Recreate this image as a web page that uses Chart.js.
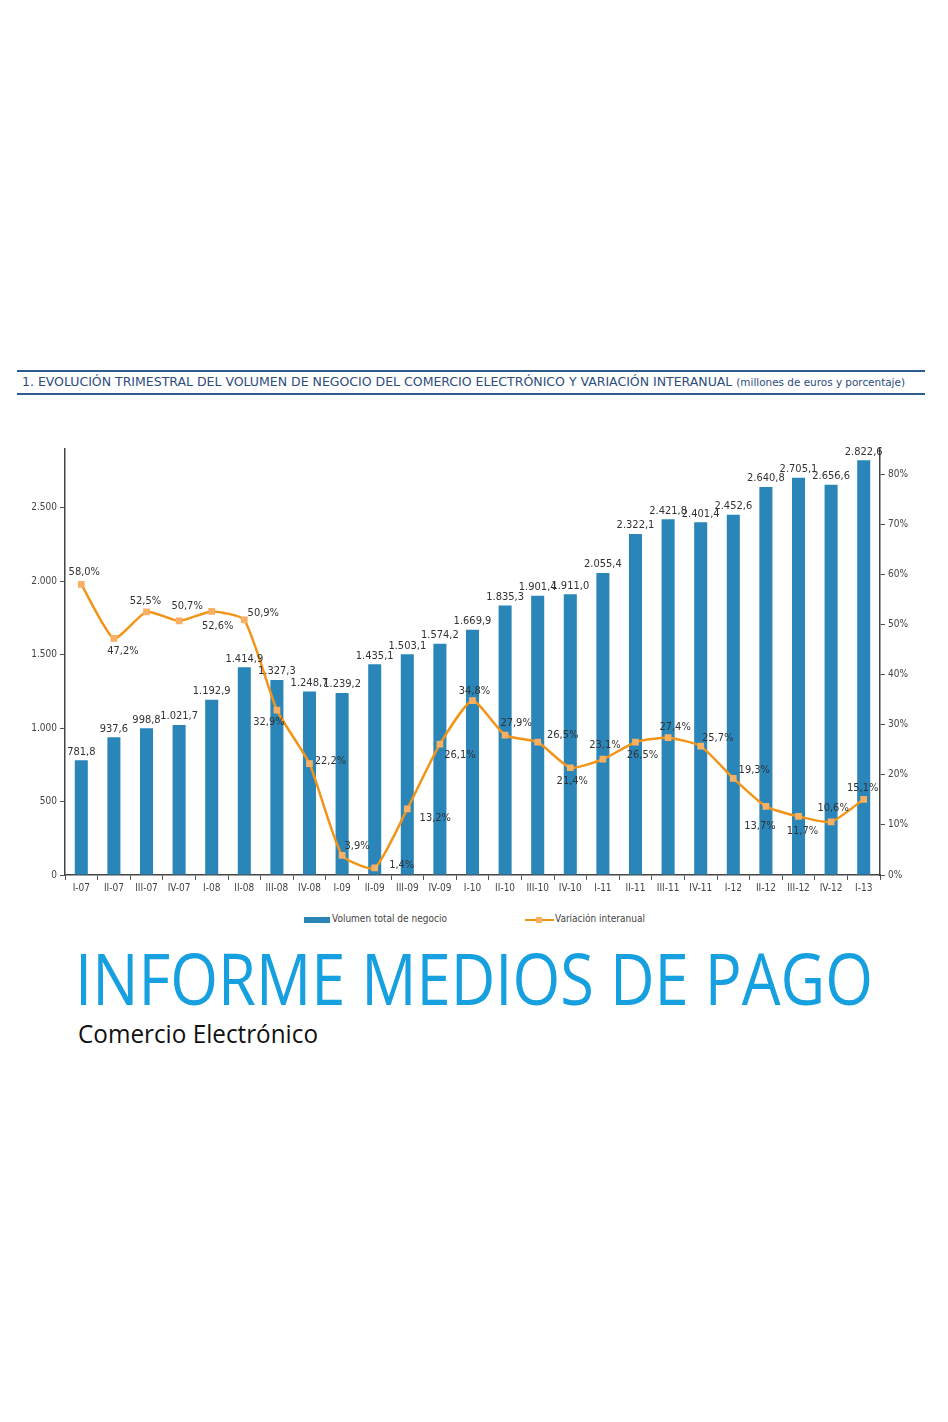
<!DOCTYPE html>
<html><head><meta charset="utf-8">
<script src="https://cdn.jsdelivr.net/npm/chart.js@4.4.1/dist/chart.umd.min.js"></script>
<style>
html,body{margin:0;padding:0;background:#fff;width:948px;height:1422px;overflow:hidden;}
#wrap{position:relative;width:948px;height:1422px;}
.hline{position:absolute;left:17px;width:908px;height:2px;background:#2f5c8e;}
.fit{position:absolute;white-space:nowrap;transform-origin:0 0;}
#title{left:22px;top:375px;font:12px "Liberation Sans Narrow","DejaVu Sans Condensed",sans-serif;color:#2c4d7e;}
#cv{position:absolute;left:0;top:440px;}
.leg{position:absolute;top:913px;font:10px "Liberation Sans Narrow","DejaVu Sans Condensed",sans-serif;color:#444;}
#big{left:75px;top:942px;font:71px "Open Sans",sans-serif;color:#16a0e0;line-height:1;}
#sub{left:78px;top:1020px;font:26px "Open Sans",sans-serif;color:#111;line-height:1;}
</style></head>
<body><div id="wrap">
<div class="hline" style="top:370px"></div>
<div class="hline" style="top:393px"></div>
<div id="title" class="fit" data-w="883">1. EVOLUCIÓN TRIMESTRAL DEL VOLUMEN DE NEGOCIO DEL COMERCIO ELECTRÓNICO Y VARIACIÓN INTERANUAL <span style="font-size:10px">(millones de euros y porcentaje)</span></div>
<canvas id="cv" width="948" height="470" style="width:948px;height:470px"></canvas>
<div style="position:absolute;left:304px;top:917px;width:26px;height:6px;background:#2a86b8"></div>
<div class="leg" style="left:332px">Volumen total de negocio</div>
<div style="position:absolute;left:525px;top:919px;width:29px;height:2px;background:#f29418"></div>
<div style="position:absolute;left:536px;top:917px;width:6px;height:6px;background:#f7b064"></div>
<div class="leg" style="left:555px">Variación interanual</div>
<div id="big" class="fit" data-w="798">INFORME MEDIOS DE PAGO</div>
<div id="sub" class="fit" data-w="240">Comercio Electrónico</div>
</div>
<script>
const categories = ["I-07","II-07","III-07","IV-07","I-08","II-08","III-08","IV-08","I-09","II-09","III-09","IV-09","I-10","II-10","III-10","IV-10","I-11","II-11","III-11","IV-11","I-12","II-12","III-12","IV-12","I-13"];
const volumen = [781.8,937.6,998.8,1021.7,1192.9,1414.9,1327.3,1248.7,1239.2,1435.1,1503.1,1574.2,1669.9,1835.3,1901.4,1911.0,2055.4,2322.1,2421.8,2401.4,2452.6,2640.8,2705.1,2656.6,2822.6];
const variacion = [58.0,47.2,52.5,50.7,52.6,50.9,32.9,22.2,3.9,1.4,13.2,26.1,34.8,27.9,26.5,21.4,23.1,26.5,27.4,25.7,19.3,13.7,11.7,10.6,15.1];
const leftTicks = [0,500,1000,1500,2000,2500];
const rightTicks = [0,10,20,30,40,50,60,70,80];

// label placement offsets (dx, dy) for the line labels
const lineLabelOffsets = [[3,-12],[9,13],[-1,-11],[8,-15],[6,15],[19,-7],[-8,12],[21,-3],[15,-9],[27,-3],[28,9],[20,11],[2,-9],[11,-12],[25,-7],[2,13],[2,-14],[7,13],[7,-11],[17,-8],[21,-8],[-6,20],[4,15],[2,-14],[-1,-11]];

function fmtES(v, dec){
  let s = v.toFixed(dec);
  let [i,d] = s.split('.');
  i = i.replace(/\B(?=(\d{3})+(?!\d))/g,'.');
  return d ? i+','+d : i;
}

document.querySelectorAll('.fit').forEach(el=>{
  const w = +el.dataset.w; const cur = el.getBoundingClientRect().width;
  el.style.transform = 'scaleX(' + (w/cur) + ')';
});

const FONT = '"Liberation Sans Narrow","DejaVu Sans Condensed",sans-serif';

const labelPlugin = {
  id:'labels',
  afterDatasetsDraw(chart){
    const ctx = chart.ctx;
    ctx.save();
    ctx.font = '11px ' + FONT;
    ctx.fillStyle = '#333';
    ctx.textAlign = 'center';
    const bm = chart.getDatasetMeta(0);
    bm.data.forEach((el,i)=>{
      ctx.textBaseline = 'bottom';
      ctx.fillText(fmtES(volumen[i],1), el.x, el.y - 3);
    });
    const lm = chart.getDatasetMeta(1);
    lm.data.forEach((el,i)=>{
      const o = lineLabelOffsets[i];
      ctx.textBaseline = 'middle';
      ctx.fillText(fmtES(variacion[i],1)+'%', el.x + o[0], el.y + o[1]);
    });
    ctx.restore();
  }
};

new Chart(document.getElementById('cv'), {
  type:'bar',
  data:{
    labels:categories,
    datasets:[
      {type:'bar', label:'Volumen total de negocio', data:volumen, backgroundColor:'#2a86b8', yAxisID:'y', barPercentage:0.8, categoryPercentage:0.5, order:2},
      {type:'line', label:'Variación interanual', data:variacion, borderColor:'#f29418', borderWidth:2.5, pointStyle:'rect', pointRadius:3, pointBackgroundColor:'#f7b064', pointBorderColor:'#f7b064', tension:0.18, yAxisID:'y1', order:1}
    ]
  },
  options:{
    responsive:false, animation:false, devicePixelRatio:1,
    layout:{padding:{top:9,left:0,right:0,bottom:0}},
    plugins:{legend:{display:false}, tooltip:{enabled:false}},
    scales:{
      x:{
        grid:{display:true, drawOnChartArea:false, offset:true, tickLength:5, color:'#555'},
        border:{display:true, color:'#444', width:1.5},
        ticks:{font:{size:10, family:FONT}, color:'#444', padding:2, maxRotation:0, autoSkip:false},
        afterFit(s){ s.height = 35; }
      },
      y:{
        position:'left', min:0, max:2900,
        afterBuildTicks(s){ s.ticks = leftTicks.map(v=>({value:v})); },
        grid:{drawOnChartArea:false, tickLength:5, color:'#555'},
        border:{display:true, color:'#444', width:1.5},
        ticks:{font:{size:10, family:FONT}, color:'#444', padding:3, callback:v=>fmtES(v,0)},
        afterFit(s){ s.width = 65; }
      },
      y1:{
        position:'right', min:0, max:85,
        afterBuildTicks(s){ s.ticks = rightTicks.map(v=>({value:v})); },
        grid:{drawOnChartArea:false, tickLength:5, color:'#555'},
        border:{display:true, color:'#444', width:1.5},
        ticks:{font:{size:10, family:FONT}, color:'#444', padding:3, callback:v=>v+'%'},
        afterFit(s){ s.width = 68; }
      }
    }
  },
  plugins:[labelPlugin]
});
</script>
</body></html>
